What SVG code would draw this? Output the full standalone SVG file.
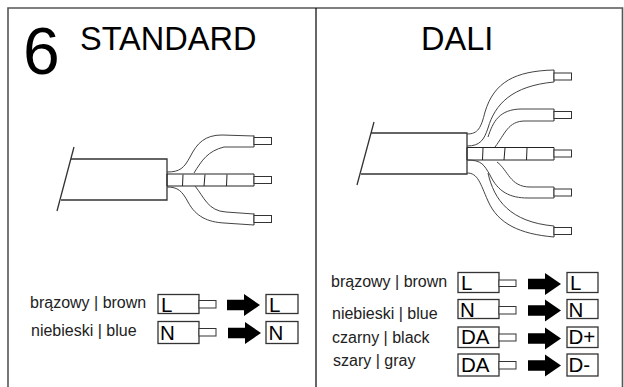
<svg xmlns="http://www.w3.org/2000/svg" width="624" height="387" viewBox="0 0 624 387">
<style>
text{font-family:"Liberation Sans",Arial,sans-serif;fill:#000}
.lab{font-size:16px;fill:#222}
.big{font-size:32.500px}
.pin{font-size:20.500px}
.box{fill:#fff;stroke:#333;stroke-width:1.300}
.tip{fill:#fff;stroke:#333;stroke-width:1}
.w{fill:none;stroke:#444;stroke-width:1}
.e{fill:none;stroke:#222;stroke-width:1}
.c{fill:none;stroke:#333;stroke-width:1.300}
</style>
<defs>
<path id="arrow" d="M0-5.300H17V-11L33 0L17 11V5.300H0Z" fill="#000"/>
<g id="tips"><rect class="tip" x="0" y="-3.500" width="17.500" height="7"/></g>
</defs>
<rect width="624" height="387" fill="#fff"/>
<g id="frame">
<path d="M8 387V8H622.500V387" fill="none" stroke="#555" stroke-width="1.600"/>
<path d="M316 8V387" stroke="#000" stroke-width="1.200"/>
</g>
<g id="titles">
<text x="23" y="74" style="font-size:66px">6</text>
<text class="big" x="80" y="50">STANDARD</text>
<text class="big" x="421" y="50">DALI</text>
</g>
<g id="cable-standard">
<path class="c" d="M74 147L57 211M71 159H167V200H61"/>
<path class="e" d="M167 174H254V186H167ZM183 174.500L182.500 186M205 174.500L204 186M227 174.500L226.500 186"/>
<path class="w" d="M167 172C180 172 184 168 190 157C197 143 205 135 222 135L254 136"/>
<path class="w" d="M194 173C202 160 208 151 224 147L254 147"/>
<path class="w" d="M195 186C204 197 208 211 226 212L254 214"/>
<path class="w" d="M167 187C178 187 182 191 188 202C196 217 208 222 224 223L254 225"/>
<path class="e" d="M254 135.500V147M254 213.500V225"/>
<use href="#tips" x="254" y="141"/><use href="#tips" x="254" y="180"/><use href="#tips" x="254" y="219"/>
</g>
<g id="cable-dali">
<path class="c" d="M374 122L357 185M371 133H467V174H361"/>
<path class="e" d="M467 147.500H554V160H467ZM483 148L482.500 160M505 148L504 160M527 148L526.500 160"/>
<path class="w" d="M467 134C478 134 481 128 485 112C494 82 515 71 554 70"/>
<path class="w" d="M467 146C480 146 484 140 488 128C495 104 512 86 554 82"/>
<path class="w" d="M488 137C493 122 499 109 522 109H554"/>
<path class="w" d="M495 147C505 134 508 121 525 121H554"/>
<path class="w" d="M497 162C508 170 510 187 530 187H554"/>
<path class="w" d="M467 160C482 160 484 165 490 175C498 192 510 198 528 198H554"/>
<path class="w" d="M488 173C494 200 510 222 554 226"/>
<path class="w" d="M467 173C478 173 480 183 488 201C498 224 520 234 554 237"/>
<path class="e" d="M554 70V82M554 109V121M554 187V198M554 226V237"/>
<use href="#tips" x="554" y="76.500"/><use href="#tips" x="554" y="115"/><use href="#tips" x="554" y="153.500"/><use href="#tips" x="554" y="192.500"/><use href="#tips" x="554" y="231"/>
</g>
<g id="legend-standard">
<text class="lab" x="30" y="308">brązowy | brown</text>
<rect class="box" x="158" y="294.500" width="41" height="19"/><text class="pin" x="161" y="312">L</text>
<rect class="tip" x="199" y="300.500" width="17" height="7.500"/>
<use href="#arrow" x="227" y="305"/>
<rect class="box" x="266" y="294.500" width="32" height="19"/><text class="pin" x="269" y="312">L</text>
<text class="lab" x="31" y="336">niebieski | blue</text>
<rect class="box" x="158" y="321.500" width="41" height="22"/><text class="pin" x="160" y="340">N</text>
<rect class="tip" x="199" y="328.500" width="17" height="7.500"/>
<use href="#arrow" x="228" y="333"/>
<rect class="box" x="266" y="321.500" width="32" height="22"/><text class="pin" x="268.500" y="340">N</text>
</g>
<g id="legend-dali">
<text class="lab" x="331" y="287">brązowy | brown</text>
<rect class="box" x="458" y="272.500" width="41" height="20"/><text class="pin" x="461" y="290">L</text>
<rect class="tip" x="499" y="280" width="17" height="6.500"/>
<use href="#arrow" x="528" y="284"/>
<rect class="box" x="567" y="272.500" width="31" height="20"/><text class="pin" x="570" y="290">L</text>
<text class="lab" x="332" y="319">niebieski | blue</text>
<rect class="box" x="458" y="299.500" width="41" height="19"/><text class="pin" x="460" y="317">N</text>
<rect class="tip" x="499" y="306.500" width="17" height="7.500"/>
<use href="#arrow" x="528" y="310.500"/>
<rect class="box" x="567" y="299.500" width="31" height="19"/><text class="pin" x="568.500" y="317">N</text>
<text class="lab" x="332" y="343">czarny | black</text>
<rect class="box" x="458" y="327" width="41" height="20.500"/><text class="pin" x="461" y="343.500">DA</text>
<rect class="tip" x="499" y="334" width="17" height="7"/>
<use href="#arrow" x="528" y="338.500"/>
<rect class="box" x="567" y="327" width="31" height="20.500"/><text class="pin" x="568.500" y="343.500">D+</text>
<text class="lab" x="333" y="366">szary | gray</text>
<rect class="box" x="458" y="354" width="41" height="22"/><text class="pin" x="461" y="372">DA</text>
<rect class="tip" x="499" y="361.500" width="17" height="7.500"/>
<use href="#arrow" x="528" y="365.500"/>
<rect class="box" x="567" y="354" width="31" height="22"/><text class="pin" x="568.500" y="372">D-</text>
</g>
</svg>
